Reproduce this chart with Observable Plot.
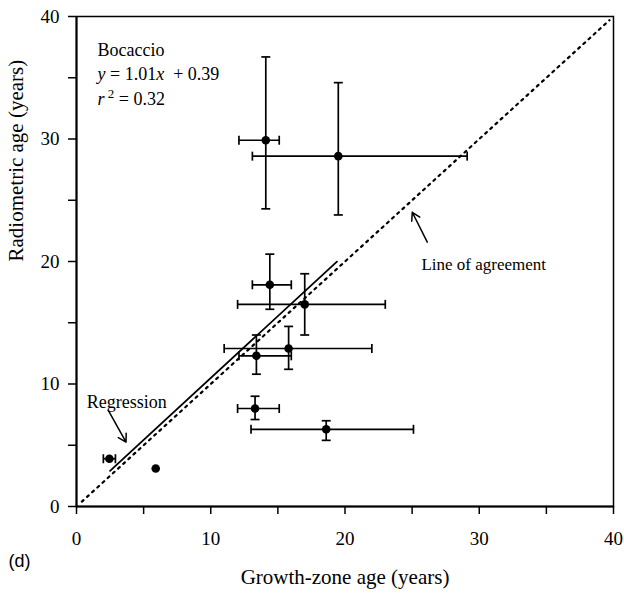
<!DOCTYPE html>
<html><head><meta charset="utf-8">
<script src="https://cdn.jsdelivr.net/npm/d3@7"></script>
<script src="https://cdn.jsdelivr.net/npm/@observablehq/plot@0.6"></script>
<style>html,body{margin:0;padding:0;background:#fff;}</style>
</head><body><div id="chart"></div>
<script>
// ---- data ----
const growthAge = [14.1, 19.5, 14.4, 17.0, 15.8, 13.4, 13.3, 18.6, 2.45, 5.9];
const radioAge  = [29.9, 28.6, 18.1, 16.5, 12.9, 12.3, 8.0, 6.3, 3.9, 3.1];
const growthLo  = [12.1, 13.1, 13.1, 12.0, 11.0, 12.1, 12.0, 13.0, 2.0, null];
const growthHi  = [15.1, 29.1, 16.0, 23.0, 22.0, 16.0, 15.1, 25.1, 2.9, null];
const radioLo   = [24.3, 23.8, 16.1, 14.0, 11.2, 10.8, 7.1, 5.4, null, null];
const radioHi   = [36.7, 34.6, 20.6, 19.0, 14.7, 14.0, 9.0, 7.0, null, null];
const regSlope = 1.01, regIntercept = 0.39, regRange = [2.5, 19.4];
const agreementRange = [0.4, 39.7];
const xTicks = [0, 5, 10, 15, 20, 25, 30, 35, 40];
const yTicks = [0, 5, 10, 15, 20, 25, 30, 35, 40];
const speciesLabel = "Bocaccio";
const eqLabel = "y = 1.01x + 0.39";
const r2Label = "r2 = 0.32";
const xTitle = "Growth-zone age (years)";
const yTitle = "Radiometric age (years)";
const panelLabel = "(d)";
const regLabel = "Regression";
const agreeLabel = "Line of agreement";

// ---- derived tables ----
const pts = growthAge.map((x, i) => ({x, y: radioAge[i], xlo: growthLo[i], xhi: growthHi[i], ylo: radioLo[i], yhi: radioHi[i]}));
const xBars = pts.filter(d => d.xlo != null);
const yBars = pts.filter(d => d.ylo != null);
const regLine = regRange.map(x => ({x, y: regSlope * x + regIntercept}));
const agreeLine = agreementRange.map(v => ({x: v, y: v}));

const capV = {draw(ctx, size) {const h = Math.sqrt(size / Math.PI); ctx.moveTo(0, -h); ctx.lineTo(0, h);}};
const capH = {draw(ctx, size) {const h = Math.sqrt(size / Math.PI); ctx.moveTo(-h, 0); ctx.lineTo(h, 0);}};
const tf = d => d % 10 === 0 ? String(d) : "";

const svg = Plot.plot({
  width: 624, height: 593,
  marginLeft: 76, marginRight: 11, marginTop: 16, marginBottom: 87,
  style: {fontFamily: "Liberation Serif", fontSize: "19px", background: "white", color: "black", overflow: "visible"},
  x: {domain: [0, 40]},
  y: {domain: [0, 40]},
  marks: [
    Plot.frame({stroke: "black", strokeWidth: 1.5}),
    Plot.axisX({ticks: xTicks, tickFormat: tf, tickSize: 8, tickPadding: 17, fontSize: 19, strokeWidth: 1.5, label: null}),
    Plot.axisY({ticks: yTicks, tickFormat: tf, tickSize: 8, tickPadding: 9, fontSize: 19, strokeWidth: 1.5, label: null}),
    Plot.ruleX([0], {stroke: "black", strokeWidth: 2}),
    Plot.ruleY([0], {stroke: "black", strokeWidth: 2}),
    // line of agreement (dotted) and regression
    Plot.line(agreeLine, {x: "x", y: "y", stroke: "black", strokeWidth: 2.2, strokeDasharray: "2.2,4.8"}),
    Plot.line(regLine, {x: "x", y: "y", stroke: "black", strokeWidth: 1.8}),
    // horizontal error bars
    Plot.link(xBars, {x1: "xlo", x2: "xhi", y1: "y", y2: "y", stroke: "black", strokeWidth: 1.7}),
    Plot.dot(xBars, {x: "xlo", y: "y", symbol: capV, r: 4.5, stroke: "black", fill: "none", strokeWidth: 1.7}),
    Plot.dot(xBars, {x: "xhi", y: "y", symbol: capV, r: 4.5, stroke: "black", fill: "none", strokeWidth: 1.7}),
    // vertical error bars
    Plot.link(yBars, {x1: "x", x2: "x", y1: "ylo", y2: "yhi", stroke: "black", strokeWidth: 1.7}),
    Plot.dot(yBars, {x: "x", y: "ylo", symbol: capH, r: 4.5, stroke: "black", fill: "none", strokeWidth: 1.7}),
    Plot.dot(yBars, {x: "x", y: "yhi", symbol: capH, r: 4.5, stroke: "black", fill: "none", strokeWidth: 1.7}),
    // points
    Plot.dot(pts, {x: "x", y: "y", r: 4.3, fill: "black", stroke: "none"}),
    // annotations
    Plot.text([speciesLabel], {frameAnchor: "top-left", dx: 21, dy: 26.5, textAnchor: "start", fontSize: 18}),
    Plot.text([eqLabel], {frameAnchor: "top-left", dx: 21, dy: 50.9, textAnchor: "start", fontSize: 18}),
    Plot.text([r2Label], {frameAnchor: "top-left", dx: 21, dy: 75.5, textAnchor: "start", fontSize: 18}),
    Plot.text([regLabel], {x: () => 0.76, y: () => 8.49, textAnchor: "start", fontSize: 18}),
    Plot.arrow([0], {x1: () => 2.37, y1: () => 7.84, x2: () => 3.69, y2: () => 5.25, stroke: "black", strokeWidth: 1.5, headLength: 9}),
    Plot.text([agreeLabel], {x: () => 25.69, y: () => 19.79, textAnchor: "start", fontSize: 17}),
    Plot.arrow([0], {x1: () => 26.13, y1: () => 21.58, x2: () => 25.01, y2: () => 24.02, stroke: "black", strokeWidth: 1.5, headLength: 9}),
    // axis titles and panel label
    Plot.text([xTitle], {frameAnchor: "bottom", dy: 77, fontSize: 21}),
    Plot.text([yTitle], {frameAnchor: "left", dx: -60, rotate: -90, fontSize: 21}),
    Plot.text([panelLabel], {frameAnchor: "bottom-left", dx: -68, dy: 60, textAnchor: "start", fontSize: 18, fontFamily: "Liberation Sans"})
  ]
});

// italic variables and superscript in the equation lines
svg.querySelectorAll("text").forEach(t => {
  if (t.textContent === eqLabel) {
    t.innerHTML = '<tspan font-style="italic">y</tspan> = 1.01<tspan font-style="italic">x</tspan>  + 0.39';
    t.setAttribute("xml:space", "preserve");
  } else if (t.textContent === r2Label) {
    t.innerHTML = '<tspan font-style="italic">r</tspan><tspan dy="-7" font-size="13"> 2</tspan><tspan dy="7"> = 0.32</tspan>';
  }
});
document.getElementById("chart").appendChild(svg);
</script>
</body></html>
